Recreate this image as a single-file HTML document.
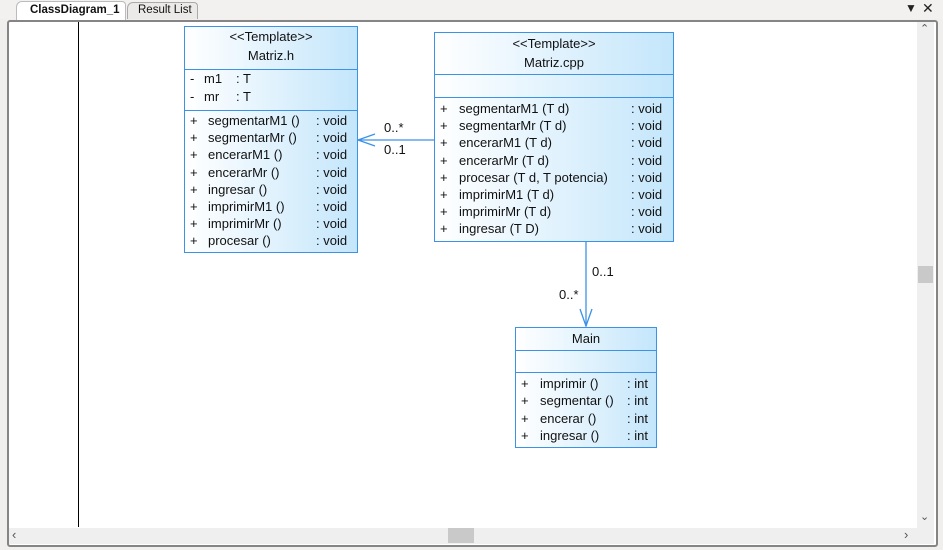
<!DOCTYPE html>
<html><head><meta charset="utf-8"><style>
*{margin:0;padding:0;box-sizing:border-box}
body{width:943px;height:550px;background:#f0efee;position:relative;overflow:hidden;font-family:"Liberation Sans",sans-serif;font-size:13px;color:#111}
.a{position:absolute;white-space:nowrap}
.box{position:absolute;border:1px solid #3c92e6;background:linear-gradient(to right,#ffffff,#c4e6fb)}
.sep{position:absolute;left:0;right:0;height:1px;background:#3c92e6}
.t{position:absolute;white-space:nowrap;line-height:16px}
</style></head><body>
<div class="a" style="left:0;top:0;width:943px;height:19px;background:#f2f1f0"></div>
<div class="a" style="left:16px;top:1px;width:110px;height:19px;background:#fff;border:1px solid #bbb;border-bottom:none;border-radius:6px 4px 0 0;font-weight:bold;font-size:11.5px;padding:2px 0 0 13px">ClassDiagram_1</div>
<div class="a" style="left:127px;top:2px;width:71px;height:17px;background:#ebeae8;border:1px solid #aaa;border-bottom:none;border-radius:6px 4px 0 0;font-size:11.5px;padding:1px 0 0 10px">Result List</div>
<div class="a" style="left:905px;top:1px;font-size:12px;color:#222">&#9660;</div>
<div class="a" style="left:922px;top:0px;font-size:14px;color:#222">&#10005;</div>
<div class="a" style="left:7px;top:20px;width:931px;height:527px;border:2px solid #858585;border-radius:3px;background:#fff"></div>
<div class="a" style="left:917px;top:22px;width:17px;height:506px;background:#efefef"></div>
<div class="a" style="left:918px;top:266px;width:15px;height:17px;background:#c9c9c9"></div>
<div class="a" style="left:9px;top:528px;width:925px;height:16px;background:#efefef"></div>
<div class="a" style="left:448px;top:528px;width:26px;height:15px;background:#c9c9c9"></div>
<div class="a" style="left:920px;top:22px;font-size:11px;color:#555">&#8963;</div>
<div class="a" style="left:920px;top:510px;font-size:11px;color:#555">&#8964;</div>
<div class="a" style="left:12px;top:527px;font-size:13px;color:#555">&#8249;</div>
<div class="a" style="left:904px;top:527px;font-size:13px;color:#555">&#8250;</div>
<div class="a" style="left:78px;top:22px;width:1px;height:505px;background:#000"></div>

<svg class="a" style="left:0;top:0" width="943" height="550">
<line x1="358" y1="140" x2="434" y2="140" stroke="#3c92e6" stroke-width="1.3"/>
<polyline points="375,134 358,140 375,146" fill="none" stroke="#3c92e6" stroke-width="1.3"/>
<line x1="586" y1="241" x2="586" y2="326" stroke="#3c92e6" stroke-width="1.3"/>
<polyline points="580,309 586,326 592,309" fill="none" stroke="#3c92e6" stroke-width="1.3"/>
</svg>
<div class="t" style="left:384px;top:120px">0..*</div>
<div class="t" style="left:384px;top:142px">0..1</div>
<div class="t" style="left:592px;top:264px">0..1</div>
<div class="t" style="left:559px;top:287px">0..*</div>

<div class="box" style="left:184px;top:26px;width:174px;height:227px">
<div class="t" style="left:0;right:0;text-align:center;top:2px">&lt;&lt;Template&gt;&gt;</div>
<div class="t" style="left:0;right:0;text-align:center;top:21px">Matriz.h</div>
<div class="sep" style="top:42px"></div>
<div class="t" style="left:5px;top:44px">-</div><div class="t" style="left:19px;top:44px">m1</div><div class="t" style="left:51px;top:44px">: T</div>
<div class="t" style="left:5px;top:62px">-</div><div class="t" style="left:19px;top:62px">mr</div><div class="t" style="left:51px;top:62px">: T</div>
<div class="sep" style="top:83px"></div>
<div class="t" style="left:5px;top:85px;line-height:17.2px">+<br>+<br>+<br>+<br>+<br>+<br>+<br>+</div>
<div class="t" style="left:23px;top:85px;line-height:17.2px">segmentarM1 ()<br>segmentarMr ()<br>encerarM1 ()<br>encerarMr ()<br>ingresar ()<br>imprimirM1 ()<br>imprimirMr ()<br>procesar ()</div>
<div class="t" style="left:131px;top:85px;line-height:17.2px">: void<br>: void<br>: void<br>: void<br>: void<br>: void<br>: void<br>: void</div>
</div>

<div class="box" style="left:434px;top:32px;width:240px;height:210px">
<div class="t" style="left:0;right:0;text-align:center;top:3px">&lt;&lt;Template&gt;&gt;</div>
<div class="t" style="left:0;right:0;text-align:center;top:22px">Matriz.cpp</div>
<div class="sep" style="top:41px"></div>
<div class="sep" style="top:64px"></div>
<div class="t" style="left:5px;top:67px;line-height:17.2px">+<br>+<br>+<br>+<br>+<br>+<br>+<br>+</div>
<div class="t" style="left:24px;top:67px;line-height:17.2px">segmentarM1 (T d)<br>segmentarMr (T d)<br>encerarM1 (T d)<br>encerarMr (T d)<br>procesar (T d, T potencia)<br>imprimirM1 (T d)<br>imprimirMr (T d)<br>ingresar (T D)</div>
<div class="t" style="left:196px;top:67px;line-height:17.2px">: void<br>: void<br>: void<br>: void<br>: void<br>: void<br>: void<br>: void</div>
</div>

<div class="box" style="left:515px;top:327px;width:142px;height:121px">
<div class="t" style="left:0;right:0;text-align:center;top:3px">Main</div>
<div class="sep" style="top:22px"></div>
<div class="sep" style="top:44px"></div>
<div class="t" style="left:5px;top:47px;line-height:17.3px">+<br>+<br>+<br>+</div>
<div class="t" style="left:24px;top:47px;line-height:17.3px">imprimir ()<br>segmentar ()<br>encerar ()<br>ingresar ()</div>
<div class="t" style="left:111px;top:47px;line-height:17.3px">: int<br>: int<br>: int<br>: int</div>
</div>
</body></html>
